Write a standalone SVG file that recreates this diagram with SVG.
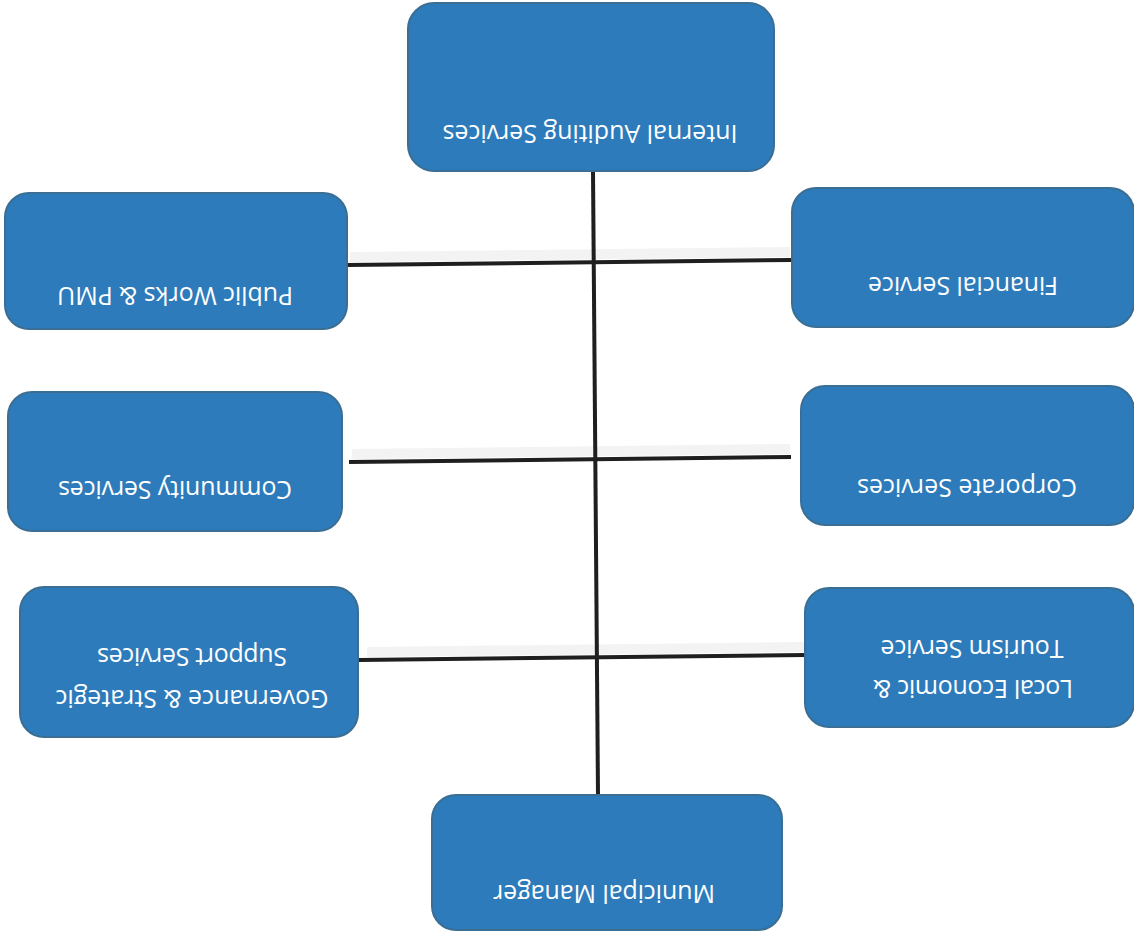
<svg xmlns="http://www.w3.org/2000/svg" width="1134" height="934" viewBox="0 0 1134 934">
  <style>
    .box { fill: #2d7bbb; stroke: #3a6e93; stroke-width: 2; }
    .lbl { font-family: "Open Sans", "Liberation Sans", sans-serif; font-size: 25px; fill: #ffffff; text-anchor: middle; }
    .wire { stroke: #1f1f1f; stroke-width: 4; stroke-linecap: butt; fill: none; }
    .haze { stroke: #f3f3f3; stroke-width: 10; fill: none; }
  </style>
  <rect width="1134" height="934" fill="#ffffff"/>

  <!-- connectors: trunk and three cross-bars -->
  <g id="connectors">
    <line class="haze" x1="350" y1="257" x2="790" y2="252"/>
    <line class="haze" x1="352" y1="454" x2="790" y2="449"/>
    <line class="haze" x1="367" y1="652" x2="805" y2="647"/>
    <line class="wire" x1="593" y1="171" x2="598" y2="796"/>
    <line class="wire" x1="347" y1="265" x2="791" y2="260"/>
    <line class="wire" x1="349" y1="462" x2="791" y2="457"/>
    <line class="wire" x1="359" y1="660" x2="806" y2="655"/>
  </g>

  <g id="internal-auditing">
    <rect class="box" x="408" y="3" width="366" height="168" rx="26"/>
    <text class="lbl" transform="translate(590 125) rotate(180)" textLength="295">Internal Auditing Services</text>
  </g>

  <g id="public-works">
    <rect class="box" x="5" y="193" width="342" height="136" rx="24"/>
    <text class="lbl" transform="translate(175 287) rotate(180)" textLength="236">Public Works &amp; PMU</text>
  </g>

  <g id="financial">
    <rect class="box" x="792" y="188" width="342" height="139" rx="24"/>
    <text class="lbl" transform="translate(963 277) rotate(180)" textLength="190">Financial Service</text>
  </g>

  <g id="community">
    <rect class="box" x="8" y="392" width="334" height="139" rx="24"/>
    <text class="lbl" transform="translate(175 481) rotate(180)" textLength="234">Community Services</text>
  </g>

  <g id="corporate">
    <rect class="box" x="801" y="386" width="333" height="139" rx="24"/>
    <text class="lbl" transform="translate(967 479) rotate(180)" textLength="220">Corporate Services</text>
  </g>

  <g id="governance">
    <rect class="box" x="20" y="587" width="338" height="150" rx="24"/>
    <text class="lbl" transform="translate(192 690) rotate(180)" textLength="273">Governance &amp; Strategic</text>
    <text class="lbl" transform="translate(192 648) rotate(180)" textLength="190">Support Services</text>
  </g>

  <g id="local-economic">
    <rect class="box" x="805" y="588" width="329" height="139" rx="24"/>
    <text class="lbl" transform="translate(973 680) rotate(180)" textLength="200">Local Economic &amp;</text>
    <text class="lbl" transform="translate(972 640) rotate(180)" textLength="183">Tourism Service</text>
  </g>

  <g id="municipal-manager">
    <rect class="box" x="432" y="795" width="350" height="135" rx="24"/>
    <text class="lbl" transform="translate(604 885) rotate(180)" textLength="222">Municipal Manager</text>
  </g>
</svg>
